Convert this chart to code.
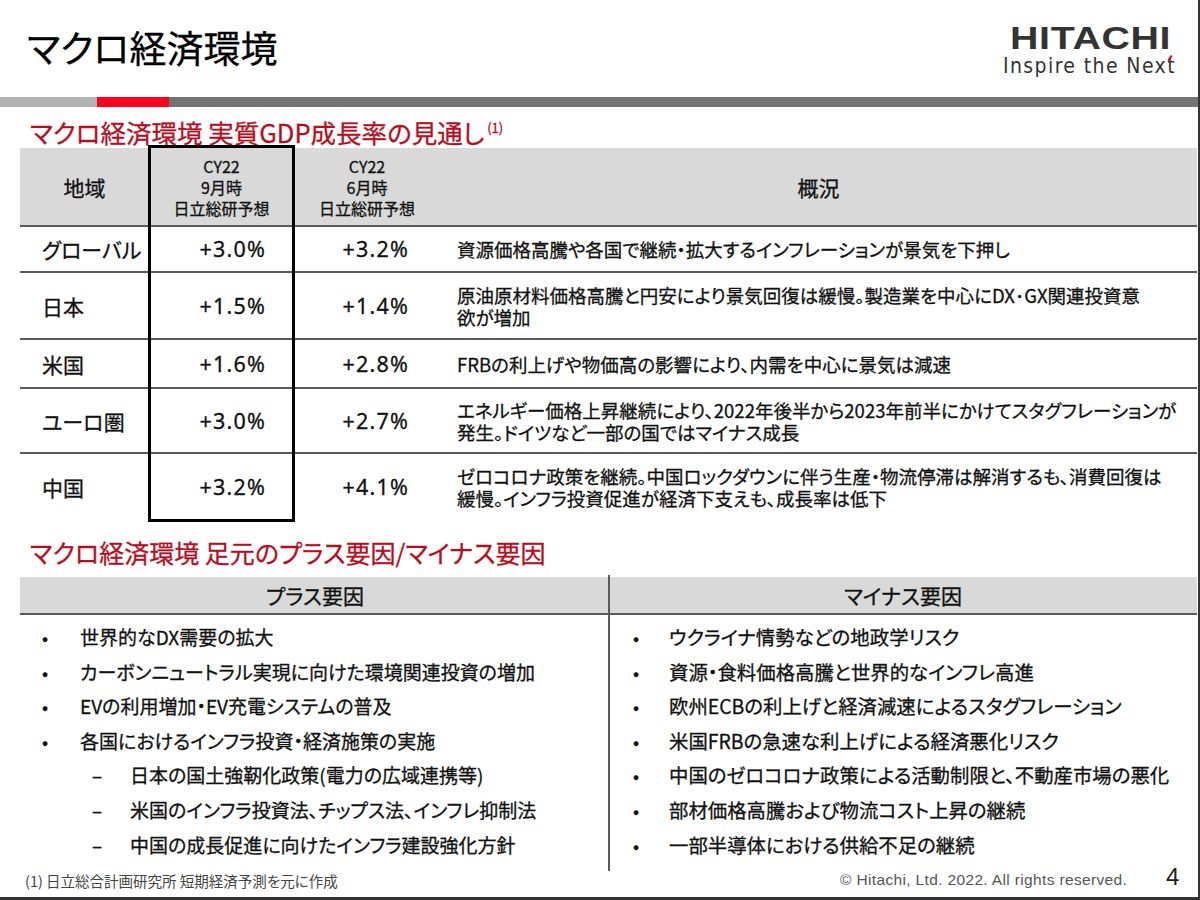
<!DOCTYPE html>
<html lang="ja">
<head>
<meta charset="utf-8">
<script src="https://cdn.jsdelivr.net/npm/chart.js@4.4.1/dist/chart.umd.min.js"></script>
<style>
  html,body{margin:0;padding:0;background:#fff;}
  body{width:1200px;height:900px;position:relative;overflow:hidden;
       font-family:"Noto Sans CJK JP","Noto Sans",sans-serif;color:#111;
       font-feature-settings:"palt";}
  .t{-webkit-text-stroke:0.3px currentColor;}
</style>
</head>
<body>
<script>
// ---- data ----
const regions = ["グローバル", "日本", "米国", "ユーロ圏", "中国"];
const gdpSep = ["+3.0%", "+1.5%", "+1.6%", "+3.0%", "+3.2%"];
const gdpJun = ["+3.2%", "+1.4%", "+2.8%", "+2.7%", "+4.1%"];
const outlook = [
  ["資源価格高騰や各国で継続・拡大するインフレーションが景気を下押し"],
  ["原油原材料価格高騰と円安により景気回復は緩慢。製造業を中心にDX･GX関連投資意", "欲が増加"],
  ["FRBの利上げや物価高の影響により、内需を中心に景気は減速"],
  ["エネルギー価格上昇継続により、2022年後半から2023年前半にかけてスタグフレーションが", "発生。ドイツなど一部の国ではマイナス成長"],
  ["ゼロコロナ政策を継続。中国ロックダウンに伴う生産・物流停滞は解消するも、消費回復は", "緩慢。インフラ投資促進が経済下支えも、成長率は低下"]
];
const headerCols = [["地域"], ["CY22", "9月時", "日立総研予想"], ["CY22", "6月時", "日立総研予想"], ["概況"]];
const plusFactors = [
  [0, "世界的なDX需要の拡大"],
  [0, "カーボンニュートラル実現に向けた環境関連投資の増加"],
  [0, "EVの利用増加・EV充電システムの普及"],
  [0, "各国におけるインフラ投資・経済施策の実施"],
  [1, "日本の国土強靭化政策(電力の広域連携等)"],
  [1, "米国のインフラ投資法、チップス法、インフレ抑制法"],
  [1, "中国の成長促進に向けたインフラ建設強化方針"]
];
const minusFactors = [
  "ウクライナ情勢などの地政学リスク",
  "資源・食料価格高騰と世界的なインフレ高進",
  "欧州ECBの利上げと経済減速によるスタグフレーション",
  "米国FRBの急速な利上げによる経済悪化リスク",
  "中国のゼロコロナ政策による活動制限と、不動産市場の悪化",
  "部材価格高騰および物流コスト上昇の継続",
  "一部半導体における供給不足の継続"
];

// ---- layout helpers ----
function el(tag, css, text, cls){
  const d = document.createElement(tag);
  d.style.cssText = css;
  if (cls) d.className = cls;
  if (text !== undefined) d.textContent = text;
  document.body.appendChild(d);
  return d;
}
function box(x,y,w,h,color){ return el('div',`position:absolute;left:${x}px;top:${y}px;width:${w}px;height:${h}px;background:${color};`); }
function txt(x,y,t,css){ return el('div',`position:absolute;white-space:pre;left:${x}px;top:${y}px;${css||''}`, t, 't'); }

// page title and logo
txt(27, 22, "マクロ経済環境", "font-size:37px;color:#000;line-height:50px;");
txt(1010, 26, "HITACHI", "font-family:'Liberation Sans',Arial,sans-serif;font-weight:bold;font-size:31px;color:#333;line-height:26px;height:26px;transform-origin:0 0;transform:scaleX(1.27);letter-spacing:0.5px;font-feature-settings:normal;-webkit-text-stroke:0;");
txt(1003, 54, "Inspire the Next", "font-family:'DejaVu Sans Condensed','DejaVu Sans',sans-serif;font-size:21px;color:#333;line-height:24px;letter-spacing:1.4px;font-feature-settings:normal;-webkit-text-stroke:0;");
box(1169, 55, 2, 6, "#e60012").style.transform = "rotate(35deg)";

// top band
box(0, 97, 97, 10, "#b3b3b3");
box(97, 97, 72, 10, "#ff0020");
box(169, 97, 1031, 10, "#737373");

// subtitles
const sub1 = txt(30, 111, "マクロ経済環境 実質GDP成長率の見通し", "font-size:25.5px;color:#b50f1f;line-height:34px;");
const sup = document.createElement('sup'); sup.textContent = "(1)"; sup.style.cssText = "font-size:13px;vertical-align:10px;margin-left:3px;";
sub1.appendChild(sup);
txt(30, 535, "マクロ経済環境 足元のプラス要因/マイナス要因", "font-size:25px;color:#b50f1f;line-height:34px;");

// ---- GDP table ----
const colX = [20, 149, 294, 440, 1197];
const rowY = [148, 226, 272, 339, 388, 453, 520];
box(20, 148, 1177, 78, "#d9d9d9");
headerCols.forEach((lines, c) => {
  const cx = (colX[c] + colX[c+1]) / 2;
  const lh = lines.length > 1 ? 21 : 30;
  const fs = lines.length > 1 ? 16 : 21;
  const top = (rowY[0] + rowY[1]) / 2 - lines.length * lh / 2;
  txt(cx - 80, top, lines.join("\n"), `width:160px;text-align:center;font-size:${fs}px;line-height:${lh}px;color:#111;`);
});
for (let r = 1; r < rowY.length - 1; r++) box(20, rowY[r] - 1, 1177, 2, "#5a5a5a");
regions.forEach((name, r) => {
  const y0 = rowY[r+1], y1 = rowY[r+2], mid = (y0 + y1) / 2;
  txt(42, mid - 15, name, "font-size:21px;line-height:30px;color:#111;");
  txt(colX[1] + 7, mid - 15, gdpSep[r], "width:110px;text-align:right;font-size:21.5px;line-height:30px;color:#111;letter-spacing:1.2px;font-family:'Noto Sans',sans-serif;font-feature-settings:normal;");
  txt(colX[2] + 8, mid - 15, gdpJun[r], "width:107px;text-align:right;font-size:21.5px;line-height:30px;color:#111;letter-spacing:1.2px;font-family:'Noto Sans',sans-serif;font-feature-settings:normal;");
  const lines = outlook[r];
  const lh = 22;
  const top = mid - lines.length * lh / 2;
  txt(457, top, lines.join("\n"), `font-size:18.5px;line-height:${lh}px;color:#111;`);
});
el('div', `position:absolute;left:148px;top:145px;width:141px;height:371px;border:3px solid #000;`);

// ---- plus/minus table ----
box(20, 577, 1177, 37, "#d9d9d9");
box(20, 613, 1177, 2, "#5a5a5a");
box(608, 575, 2, 296, "#5a5a5a");
txt(215, 579, "プラス要因", "width:200px;text-align:center;font-size:21px;line-height:32px;color:#111;");
txt(803, 579, "マイナス要因", "width:200px;text-align:center;font-size:21px;line-height:32px;color:#111;");
const step = 34.6, firstY = 637;
plusFactors.forEach(([lvl, t], i) => {
  const y = firstY + i*step - 14;
  if (lvl === 0) {
    txt(42, y, "•", "font-size:18px;line-height:28px;color:#111;");
    txt(80, y, t, "font-size:19px;line-height:28px;color:#111;");
  } else {
    txt(92, y, "–", "font-size:19px;line-height:28px;color:#111;");
    txt(130, y, t, "font-size:19px;line-height:28px;color:#111;");
  }
});
minusFactors.forEach((t, i) => {
  const y = firstY + i*step - 14;
  txt(633, y, "•", "font-size:18px;line-height:28px;color:#111;");
  txt(669, y, t, "font-size:19.4px;line-height:28px;color:#111;");
});

// footer
txt(25, 871, "(1) 日立総合計画研究所 短期経済予測を元に作成", "font-size:14.5px;line-height:20px;color:#444;-webkit-text-stroke:0;");
txt(840, 870, "© Hitachi, Ltd. 2022. All rights reserved.", "font-family:'Liberation Sans',Arial,sans-serif;font-size:15.5px;line-height:20px;color:#555;letter-spacing:0.35px;font-feature-settings:normal;-webkit-text-stroke:0;");
txt(1166, 862, "4", "font-family:'Liberation Sans',Arial,sans-serif;font-size:24px;line-height:30px;color:#222;-webkit-text-stroke:0;");
box(1198, 0, 2, 900, "#333");
box(0, 897, 1200, 3, "#333");
</script>
</body>
</html>
